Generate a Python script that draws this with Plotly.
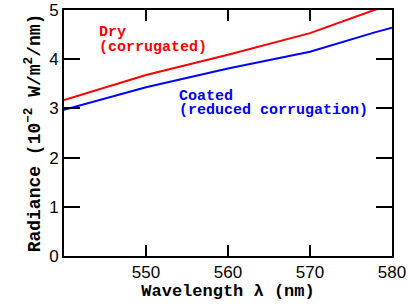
import plotly.graph_objects as go

wavelength = [540, 550, 560, 570, 578, 580]
dry = [3.17, 3.68, 4.09, 4.53, 5.01, 5.11]
coated = [2.97, 3.43, 3.81, 4.15, 4.55, 4.64]

x_ticks = [550, 560, 570, 580]
y_ticks = [0, 1, 2, 3, 4, 5]

mono = "Liberation Mono, Courier New, monospace"
sans = "Liberation Sans, Arial, sans-serif"

fig = go.Figure()
fig.add_trace(go.Scatter(x=wavelength, y=dry, mode="lines",
                         line=dict(color="#ff0000", width=2), showlegend=False))
fig.add_trace(go.Scatter(x=wavelength, y=coated, mode="lines",
                         line=dict(color="#0000ff", width=2), showlegend=False))

axis_common = dict(showline=True, linecolor="black", linewidth=2, mirror="ticks",
                   ticks="inside", tickcolor="black", tickwidth=2,
                   showgrid=False, zeroline=False, automargin=False,
                   ticklabeloverflow="allow",
                   tickfont=dict(family=sans, size=17, color="black"))

fig.update_xaxes(range=[540, 580], tickvals=x_ticks, ticklen=11,
                 title=dict(text="<b>Wavelength λ (nm)</b>",
                            font=dict(family=mono, size=17, color="black"), standoff=2),
                 **axis_common)
fig.update_yaxes(range=[0, 5], tickvals=y_ticks, ticklen=16,
                 title=dict(text="<b>Radiance (10<sup>−2</sup> W/m<sup>2</sup>/nm)</b>",
                            font=dict(family=mono, size=18, color="black"), standoff=4),
                 **axis_common)

def label(x, y, text, color):
    fig.add_annotation(x=x, y=y, xref="x", yref="y", text="<b>" + text + "</b>",
                       showarrow=False, xanchor="left", yanchor="middle",
                       font=dict(family=mono, size=15, color=color))

label(544.0, 4.54, "Dry", "#ff0000")
label(544.0, 4.24, "(corrugated)", "#ff0000")
label(553.8, 3.25, "Coated", "#0000ff")
label(553.8, 2.95, "(reduced corrugation)", "#0000ff")

fig.update_layout(width=409, height=305, margin=dict(l=64, r=17, t=10, b=49),
                  plot_bgcolor="white", paper_bgcolor="white")

fig.write_html("out.html", config={"displayModeBar": False},
               post_script="document.body.style.margin='0';")
